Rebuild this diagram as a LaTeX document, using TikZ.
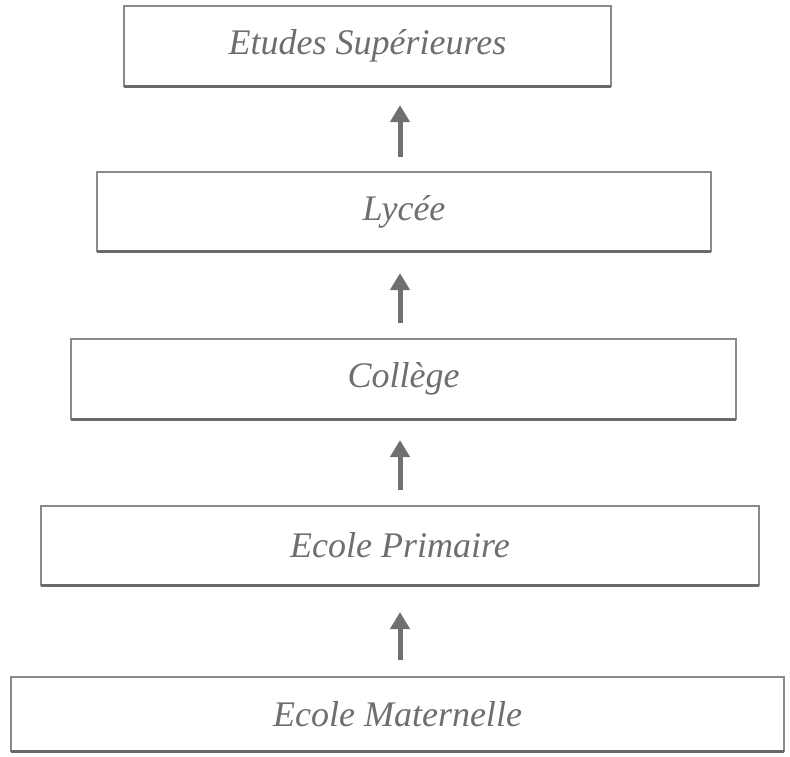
\documentclass[tikz,border=0pt]{standalone}
\usepackage{fontspec}
\setmainfont{Liberation Serif}
\usetikzlibrary{arrows.meta,calc}
\definecolor{txtgray}{HTML}{6E6E6E}
\definecolor{linegray}{HTML}{8A8A8A}
\definecolor{shadowgray}{HTML}{6A6A6A}
\definecolor{arrowgray}{HTML}{707070}
\begin{document}
\begin{tikzpicture}[x=1pt,y=-1pt,
  levelbox/.style={draw=linegray, line width=1.2pt, fill=white, inner sep=0pt},
  leveltext/.style={font=\fontsize{36}{42}\selectfont\itshape, text=txtgray},
  uparrow/.style={draw=arrowgray, line width=5pt, -{Triangle[width=19pt,length=17pt]}}]
\useasboundingbox (0,0) rectangle (790,756);
\newcommand{\levelbox}[6]{%
  \draw[levelbox] (#1,#2) rectangle (#3,#4);
  \draw[shadowgray, line width=3pt] (#1,#4) -- (#3,#4);
  \node[leveltext, inner sep=0pt] (#5) at ({(#1+#3)/2},{(#2+#4)/2}) {#6};
  \coordinate (#5-top) at ({(#1+#3)/2},#2);
  \coordinate (#5-bot) at ({(#1+#3)/2},#4);
}
\levelbox{124}{6}{611}{86}{sup}{Etudes Supérieures}
\levelbox{97}{172}{711}{251}{lyc}{Lycée}
\levelbox{71}{339}{736}{419}{col}{Collège}
\levelbox{41}{506}{759}{585}{pri}{Ecole Primaire}
\levelbox{11}{677}{784}{751}{mat}{Ecole Maternelle}
\coordinate (ax) at (400,0);
\draw[uparrow, shorten <=15pt, shorten >=19pt] (lyc-top -| ax) -- (sup-bot -| ax);
\draw[uparrow, shorten <=16pt, shorten >=22pt] (col-top -| ax) -- (lyc-bot -| ax);
\draw[uparrow, shorten <=16pt, shorten >=21pt] (pri-top -| ax) -- (col-bot -| ax);
\draw[uparrow, shorten <=17pt, shorten >=27pt] (mat-top -| ax) -- (pri-bot -| ax);
\end{tikzpicture}
\end{document}
